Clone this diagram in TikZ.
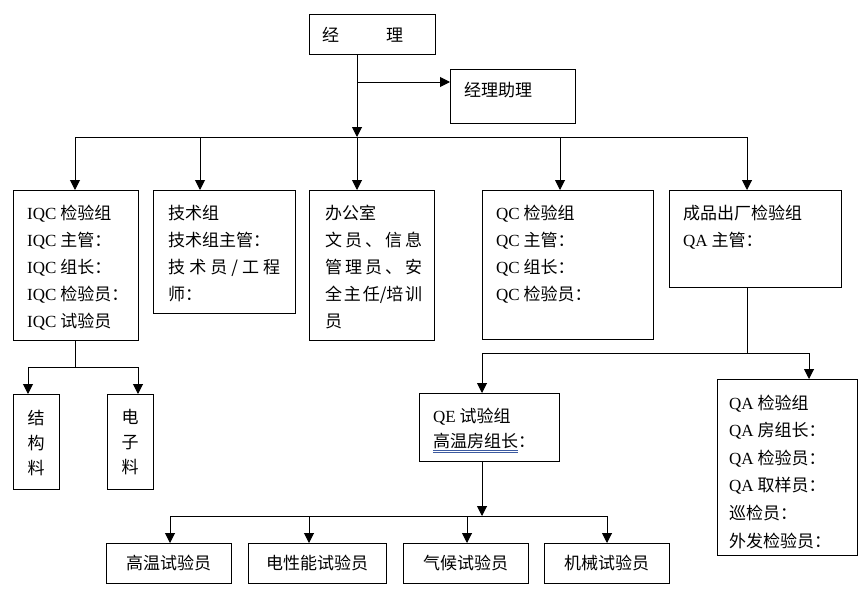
\documentclass[tikz,border=0pt]{standalone}
\usepackage{fontspec}
\setmainfont{Noto Sans CJK SC}
\newfontfamily\lat{Liberation Serif}
\usetikzlibrary{arrows.meta}
\definecolor{ulblue}{RGB}{60,90,160}
\newcommand\La[1]{{\lat #1}}
\newcommand\hf{\hfill{}}
\begin{document}
\begin{tikzpicture}[x=1pt,y=-1pt,
  box/.style={draw, line width=1pt, outer sep=0pt, inner sep=0pt, anchor=north west},
  bbox/.style={box, minimum width=125pt, minimum height=40pt, font=\fontsize{17}{27}\selectfont},
  txt/.style={anchor=north west, align=left, inner sep=0pt, font=\fontsize{17}{27}\selectfont},
  arr/.style={line width=1pt, -{Triangle[width=10pt,length=10pt]}},
  ln/.style={line width=1pt}]
\useasboundingbox (0,0) rectangle (861,594);
% boxes
\node[box, minimum width=126pt, minimum height=40pt] (mgr) at (309,15) {};
\node[box, minimum width=125pt, minimum height=54pt] (asst) at (450,69) {};
\node[box, minimum width=125pt, minimum height=150pt] (iqc) at (13,190) {};
\node[box, minimum width=142pt, minimum height=123pt] (tech) at (153,190) {};
\node[box, minimum width=125pt, minimum height=150pt] (office) at (309,190) {};
\node[box, minimum width=171pt, minimum height=149pt] (qc) at (482,190) {};
\node[box, minimum width=172pt, minimum height=97pt] (fin) at (669,190) {};
\node[box, minimum width=46pt, minimum height=95pt] (jg) at (13,394) {};
\node[box, minimum width=46pt, minimum height=95pt] (dz) at (107,394) {};
\node[box, minimum width=140pt, minimum height=68pt] (qe) at (419,393) {};
\node[box, minimum width=140pt, minimum height=176pt] (qa) at (717,379) {};
\node[bbox] (b1) at (106,543) {高温试验员};
\node[bbox, minimum width=138pt] (b2) at (248,543) {电性能试验员};
\node[bbox] (b3) at (403,543) {气候试验员};
\node[bbox] (b4) at (544,543) {机械试验员};
% texts
\node[txt, anchor=west] (mgrt) at (322,35) {经\hspace{47pt}理};
\node[txt, anchor=west] (asstt) at (464,90) {经理助理};
\node[txt] (iqct) at (27,205) {\La{IQC} 检验组\\\La{IQC} 主管：\\\La{IQC} 组长：\\\La{IQC} 检验员：\\\La{IQC} 试验员};
\node[txt] (techt) at (168,205) {技术组\\技术组主管：\\\makebox[112pt][s]{技\hf 术\hf 员\hf /\hf 工\hf 程}\\师：};
\node[txt] (officet) at (325,205) {办公室\\\makebox[97pt][s]{文\hf 员\hf 、\hf 信\hf 息}\\\makebox[97pt][s]{管\hf 理\hf 员\hf 、\hf 安}\\\makebox[97pt][s]{全\hf 主\hf 任/培\hf 训}\\员};
\node[txt] (qct) at (496,205) {\La{QC} 检验组\\\La{QC} 主管：\\\La{QC} 组长：\\\La{QC} 检验员：};
\node[txt] (fint) at (683,205) {成品出厂检验组\\\La{QA} 主管：};
\node[txt, font=\fontsize{17}{27.6}\selectfont] (qat) at (729,394.5) {\La{QA} 检验组\\\La{QA} 房组长：\\\La{QA} 检验员：\\\La{QA} 取样员：\\巡检员：\\外发检验员：};
\node[txt, font=\fontsize{17}{25}\selectfont] (qet) at (433,407.5) {\La{QE} 试验组\\{\color{ulblue}\underline{\underline{\color{black}高温房组长}}}：};
\node[txt, anchor=north, align=center, font=\fontsize{17}{25}\selectfont] (jgt) at (36,409.5) {结\\构\\料};
\node[txt, anchor=north, align=center, font=\fontsize{17}{25}\selectfont] (dzt) at (130,409.5) {电\\子\\料};
% connectors
\coordinate (bus) at (357,137);
\coordinate (br) at (357,82);
\draw[arr] (mgr.south -| bus) -- (bus);
\draw[arr] (br) -- (br -| asst.west);
\coordinate (d1) at (75,137);
\coordinate (d2) at (200,137);
\coordinate (d4) at (560,137);
\coordinate (d5) at (747,137);
\draw[ln] (d1) -- (d5);
\draw[arr] (d1) -- (d1 |- iqc.north);
\draw[arr] (d2) -- (d2 |- tech.north);
\draw[arr] (bus) -- (bus |- office.north);
\draw[arr] (d4) -- (d4 |- qc.north);
\draw[arr] (d5) -- (d5 |- fin.north);
% IQC sub
\coordinate (s) at (75,367);
\coordinate (sL) at (28,367);
\coordinate (sR) at (138,367);
\draw[ln] (iqc.south -| s) -- (s);
\draw[ln] (sL) -- (sR);
\draw[arr] (sL) -- (sL |- jg.north);
\draw[arr] (sR) -- (sR |- dz.north);
% QA row
\coordinate (q) at (747,353);
\coordinate (qL) at (482,353);
\coordinate (qR) at (809,353);
\draw[ln] (fin.south -| q) -- (q);
\draw[ln] (qL) -- (qR);
\draw[arr] (qL) -- (qL |- qe.north);
\draw[arr] (qR) -- (qR |- qa.north);
% QE row
\coordinate (e) at (482,516);
\coordinate (e1) at (170,516);
\coordinate (e2) at (309,516);
\coordinate (e3) at (467,516);
\coordinate (e4) at (607,516);
\draw[arr] (qe.south -| e) -- (e);
\draw[ln] (e1) -- (e4);
\draw[arr] (e1) -- (e1 |- b1.north);
\draw[arr] (e2) -- (e2 |- b2.north);
\draw[arr] (e3) -- (e3 |- b3.north);
\draw[arr] (e4) -- (e4 |- b4.north);
\end{tikzpicture}
\end{document}
